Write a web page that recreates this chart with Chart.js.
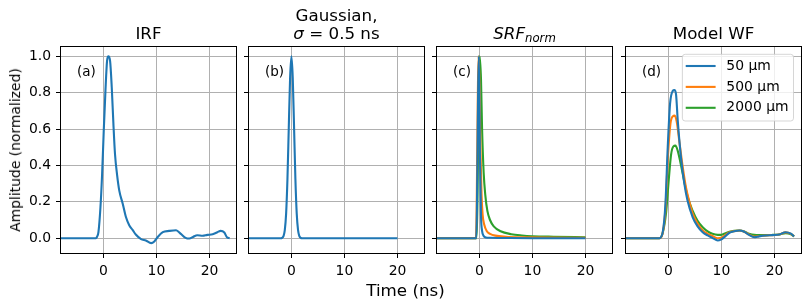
<!DOCTYPE html>
<html>
<head>
<meta charset="utf-8">
<script src="https://cdn.jsdelivr.net/npm/chart.js@4"></script>
<style>
  body { margin: 0; width: 811px; height: 308px; overflow: hidden; position: relative; background: #fff; font-family: "DejaVu Sans"; }
  canvas { position: absolute; top: 0; }
  .lbl { position: absolute; color: #000; white-space: nowrap; line-height: 1; }
</style>
</head>
<body>
<canvas id="pa" width="235" height="283" style="left:11px"></canvas>
<canvas id="pb" width="235" height="283" style="left:199px"></canvas>
<canvas id="pc" width="235" height="283" style="left:387px"></canvas>
<canvas id="pd" width="235" height="283" style="left:576px"></canvas>
<div class="lbl" style="left:405.5px; top:282px; font-size:16.7px; transform:translateX(-50%)">Time (ns)</div>
<div class="lbl" style="left:15.5px; top:150px; font-size:13.9px; transform:translate(-50%,-50%) rotate(-90deg)">Amplitude (normalized)</div>
<script>
// axis ticks
const xTicks = [0, 10, 20];
const yTicks = [0, 0.2, 0.4, 0.6, 0.8, 1.0];

// (a) measured IRF
const irfT = [-8, -1.4, -1.2, -0.94, -0.56, -0.25, 0.06, 0.38, 0.69, 0.94, 1.25, 1.57, 1.88, 2.19, 2.57, 3.0, 3.64, 4.26, 4.89, 5.5, 6.1, 7.1, 8.0, 9.0, 9.6, 10.2, 11.2, 12.4, 13.7, 14.6, 15.5, 16.2, 16.9, 17.7, 18.7, 19.6, 20.6, 21.5, 22.1, 22.8, 23.3, 23.8];
const irfY = [0, 0, 0.008, 0.033, 0.17, 0.35, 0.59, 0.81, 0.976, 1.0, 0.976, 0.83, 0.63, 0.46, 0.35, 0.26, 0.19, 0.115, 0.07, 0.046, 0.02, -0.005, -0.013, -0.027, -0.018, 0.005, 0.033, 0.04, 0.044, 0.024, 0.002, -0.002, 0.007, 0.016, 0.013, 0.018, 0.022, 0.033, 0.04, 0.031, 0.005, 0.0];

// (b) gaussian, sigma = 0.5 ns
const gaussT = [-8, -2, -1.75, -1.5, -1.25, -1, -0.75, -0.5, -0.25, 0, 0.25, 0.5, 0.75, 1, 1.25, 1.5, 1.75, 2, 20];
const gaussY = [0, 0, 0.002, 0.011, 0.044, 0.135, 0.325, 0.607, 0.882, 1.0, 0.882, 0.607, 0.325, 0.135, 0.044, 0.011, 0.002, 0, 0];

// (c) SRF_norm for the three thicknesses
const srfT50 = [-8, -0.6, -0.1, 0.1, 0.3, 0.5, 0.8, 1.2, 2, 5, 10, 20];
const srf50 = [0, 0, 1.0, 0.45, 0.12, 0.04, 0.012, 0.004, 0.002, 0.001, 0, 0];
const srfT500 = [-8, -0.65, -0.15, 0.0, 0.2, 0.4, 0.6, 0.9, 1.4, 2, 3, 5, 8, 12, 20];
const srf500 = [0, 0, 1.0, 0.85, 0.48, 0.24, 0.13, 0.075, 0.038, 0.024, 0.014, 0.008, 0.005, 0.003, 0.002];
const srfT2000 = [-8, -0.55, 0.05, 0.3, 0.5, 0.8, 1.1, 1.5, 2, 2.7, 4, 6, 8, 10, 14, 20];
const srf2000 = [0, 0, 1.0, 0.87, 0.6, 0.36, 0.24, 0.15, 0.1, 0.065, 0.038, 0.022, 0.015, 0.011, 0.008, 0.005];

// (d) model waveforms
const wfT50 = [-8, -1.69, -1.07, -0.56, -0.13, 0.31, 0.82, 1.13, 1.44, 1.76, 2.38, 3.0, 3.6, 4.58, 5.5, 6.46, 7.4, 8.3, 9.3, 9.9, 10.5, 11.5, 12.4, 13.4, 14.3, 15.2, 16.2, 17.1, 18.4, 19.6, 20.9, 22.1, 23.1, 23.7];
const wf50 = [0, 0, 0.033, 0.19, 0.50, 0.74, 0.81, 0.815, 0.79, 0.647, 0.44, 0.30, 0.207, 0.115, 0.065, 0.033, 0.015, 0.002, -0.013, -0.008, 0.005, 0.03, 0.038, 0.042, 0.035, 0.018, 0.005, 0.01, 0.015, 0.017, 0.02, 0.033, 0.025, 0.01];
const wfT500 = [-8, -1.69, -1.07, -0.56, -0.13, 0.38, 0.82, 1.19, 1.57, 2.07, 2.7, 3.3, 3.95, 4.58, 5.5, 6.46, 7.4, 8.3, 9.3, 9.9, 10.5, 11.5, 12.4, 13.4, 14.3, 15.2, 16.2, 17.1, 18.4, 19.6, 20.9, 22.1, 23.1, 23.7];
const wf500 = [0, 0, 0.03, 0.16, 0.43, 0.63, 0.67, 0.674, 0.64, 0.53, 0.39, 0.28, 0.2, 0.135, 0.08, 0.042, 0.024, 0.012, 0.0, 0.002, 0.012, 0.033, 0.039, 0.042, 0.035, 0.02, 0.009, 0.012, 0.015, 0.017, 0.02, 0.032, 0.024, 0.01];
const wfT2000 = [-8, -1.69, -1.07, -0.44, 0.06, 0.5, 0.94, 1.32, 1.76, 2.38, 3.0, 3.6, 4.58, 5.5, 6.46, 7.4, 8.3, 9.3, 9.9, 10.5, 11.5, 12.4, 13.4, 14.3, 15.2, 16.2, 17.1, 18.4, 19.6, 20.9, 22.1, 23.1, 23.7];
const wf2000 = [0, 0, 0.03, 0.14, 0.32, 0.46, 0.505, 0.509, 0.48, 0.40, 0.31, 0.23, 0.15, 0.095, 0.06, 0.037, 0.024, 0.018, 0.018, 0.024, 0.035, 0.04, 0.042, 0.037, 0.025, 0.018, 0.017, 0.017, 0.018, 0.02, 0.028, 0.022, 0.01];

const seriesNames = ['50 µm', '500 µm', '2000 µm'];
const colors = ['#1f77b4', '#ff7f0e', '#2ca02c'];

const FONT = '"DejaVu Sans"';
const pts = (xs, ys) => xs.map((x, i) => ({ x: x, y: ys[i] }));

// spines, panel letter, title and (optionally) legend
const frame = {
  id: 'frame',
  afterDraw(chart, args, o) {
    const ctx = chart.ctx, a = chart.chartArea;
    const cx = (a.left + a.right) / 2;
    ctx.save();
    ctx.fillStyle = '#000';
    ctx.strokeStyle = '#000';
    ctx.lineWidth = 1;
    const l = Math.round(a.left) - 0.5, t = Math.round(a.top) - 0.5;
    const r = Math.round(a.right) + 0.5, b = Math.round(a.bottom) + 0.5;
    ctx.strokeRect(l, t, r - l, b - t);

    ctx.font = '13.5px ' + FONT;
    ctx.textAlign = 'left';
    ctx.textBaseline = 'alphabetic';
    ctx.fillText(o.letter, a.left + 16, a.top + 28.5);

    const base = a.top - 8;
    ctx.font = '16.7px ' + FONT;
    if (o.title == 'gauss') {
      ctx.textAlign = 'center';
      ctx.fillText('Gaussian,', cx, base - 18);
      ctx.textAlign = 'left';
      ctx.font = 'italic 16.7px ' + FONT;
      const w1 = ctx.measureText('σ').width;
      ctx.font = '16.7px ' + FONT;
      const w2 = ctx.measureText(' = 0.5 ns').width;
      let x = cx - (w1 + w2) / 2;
      ctx.font = 'italic 16.7px ' + FONT;
      ctx.fillText('σ', x, base);
      ctx.font = '16.7px ' + FONT;
      ctx.fillText(' = 0.5 ns', x + w1, base);
    } else if (o.title == 'srf') {
      ctx.textAlign = 'left';
      ctx.font = 'italic 16.7px ' + FONT;
      const w1 = ctx.measureText('SRF').width;
      ctx.font = 'italic 11.7px ' + FONT;
      const w2 = ctx.measureText('norm').width;
      let x = cx - (w1 + w2) / 2;
      ctx.font = 'italic 16.7px ' + FONT;
      ctx.fillText('SRF', x, base);
      ctx.font = 'italic 11.7px ' + FONT;
      ctx.fillText('norm', x + w1, base + 2.5);
    } else {
      ctx.textAlign = 'center';
      ctx.fillText(o.title, cx, base);
    }

    if (o.legend) {
      const sets = chart.data.datasets;
      ctx.font = '13.9px ' + FONT;
      let tw = 0;
      sets.forEach(ds => { tw = Math.max(tw, ctx.measureText(ds.label).width); });
      const bw = 44 + tw + 5, bh = 66.7;
      const bx = a.right - 7.5 - bw, by = a.top + 7.3;
      ctx.beginPath();
      ctx.roundRect(bx, by, bw, bh, 2.8);
      ctx.fillStyle = 'rgba(255,255,255,0.8)';
      ctx.fill();
      ctx.strokeStyle = 'rgba(204,204,204,0.8)';
      ctx.lineWidth = 1;
      ctx.stroke();
      ctx.textBaseline = 'middle';
      ctx.textAlign = 'left';
      sets.forEach((ds, i) => {
        const ry = by + 11.7 + i * 20.9;
        ctx.strokeStyle = ds.borderColor;
        ctx.lineWidth = 2.1;
        ctx.lineCap = 'square';
        ctx.beginPath();
        ctx.moveTo(bx + 4.4, ry);
        ctx.lineTo(bx + 32.2, ry);
        ctx.stroke();
        ctx.fillStyle = '#000';
        ctx.fillText(ds.label, bx + 44, ry);
      });
    }
    ctx.restore();
  }
};

function panel(id, datasets, opts) {
  const grid = { color: '#b0b0b0', lineWidth: 1, tickColor: '#000', tickLength: 5, tickWidth: 1 };
  return new Chart(document.getElementById(id), {
    type: 'line',
    data: {
      datasets: datasets.map((d, i) => ({
        label: d.label,
        data: d.data,
        borderColor: d.color,
        backgroundColor: d.color,
        borderWidth: 2.1,
        pointRadius: 0,
        cubicInterpolationMode: 'monotone',
        borderJoinStyle: 'round',
        fill: false
      }))
    },
    options: {
      responsive: false,
      animation: false,
      devicePixelRatio: 1,
      layout: { padding: { left: 0, top: 47, right: 10, bottom: 0 } },
      plugins: { legend: { display: false }, tooltip: { enabled: false }, frame: opts },
      scales: {
        x: {
          type: 'linear', min: -8, max: 25,
          afterFit: s => { s.height = 30; },
          afterBuildTicks: s => { s.ticks = xTicks.map(v => ({ value: v })); },
          ticks: { color: '#000', font: { family: FONT, size: 13.9 }, padding: 5, maxRotation: 0, callback: v => String(v) },
          grid: grid,
          border: { display: false }
        },
        y: {
          type: 'linear', min: -0.0815, max: 1.0515,
          afterFit: s => { s.width = 50; },
          afterBuildTicks: s => { s.ticks = yTicks.map(v => ({ value: v })); },
          ticks: { display: !!opts.yLabels, color: '#000', font: { family: FONT, size: 13.9 }, padding: 5, callback: v => v.toFixed(1) },
          grid: grid,
          border: { display: false }
        }
      }
    },
    plugins: [frame]
  });
}

panel('pa', [{ label: 'IRF', data: pts(irfT, irfY), color: colors[0] }], { letter: '(a)', title: 'IRF', yLabels: true });
panel('pb', [{ label: 'Gaussian', data: pts(gaussT, gaussY), color: colors[0] }], { letter: '(b)', title: 'gauss' });
panel('pc', [
  { label: seriesNames[0], data: pts(srfT50, srf50), color: colors[0] },
  { label: seriesNames[1], data: pts(srfT500, srf500), color: colors[1] },
  { label: seriesNames[2], data: pts(srfT2000, srf2000), color: colors[2] }
], { letter: '(c)', title: 'srf' });
panel('pd', [
  { label: seriesNames[0], data: pts(wfT50, wf50), color: colors[0] },
  { label: seriesNames[1], data: pts(wfT500, wf500), color: colors[1] },
  { label: seriesNames[2], data: pts(wfT2000, wf2000), color: colors[2] }
], { letter: '(d)', title: 'Model WF', legend: true });
</script>
</body>
</html>
